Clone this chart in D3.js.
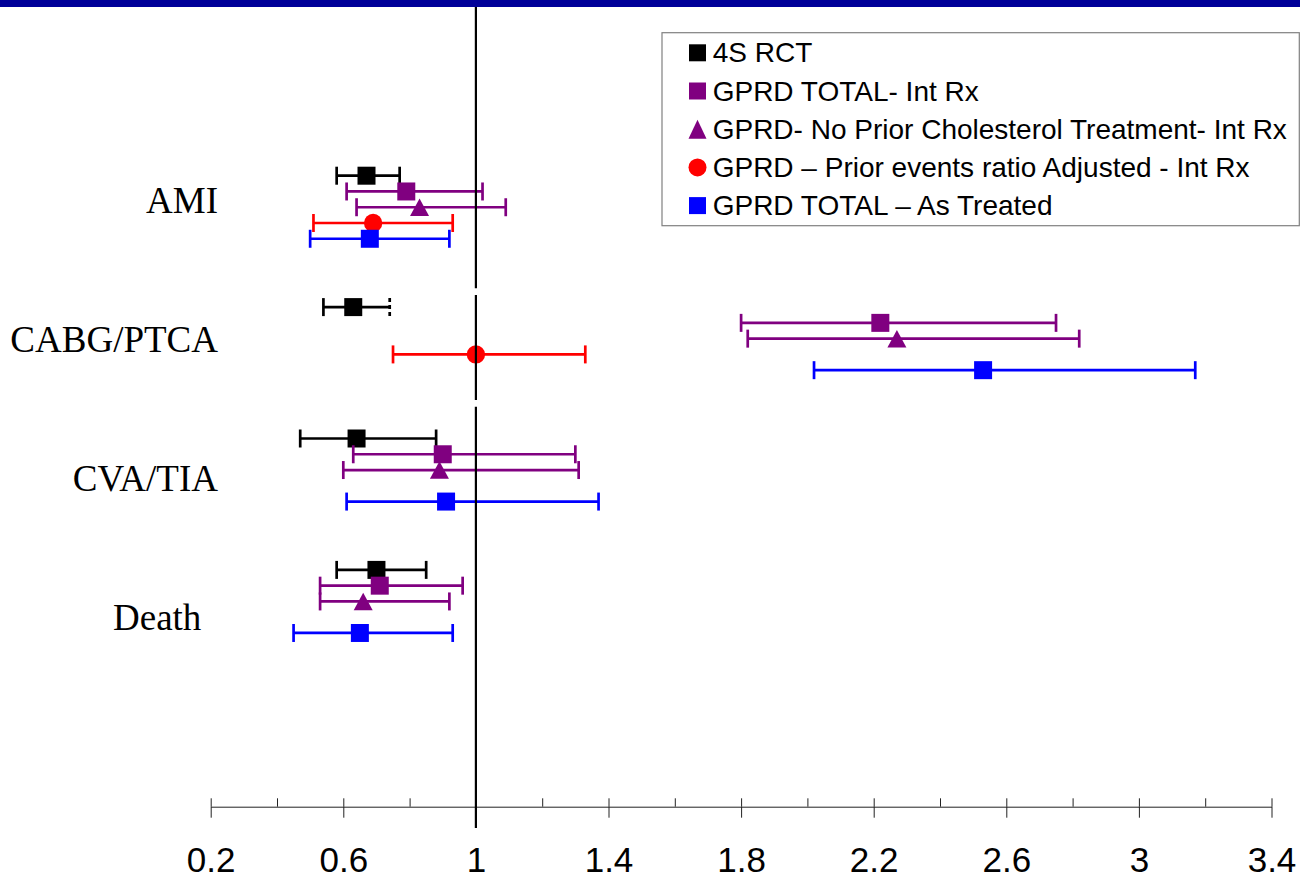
<!DOCTYPE html>
<html>
<head>
<meta charset="utf-8">
<script src="https://cdn.jsdelivr.net/npm/d3@7"></script>
<style>
  body { margin: 0; background: #ffffff; }
</style>
</head>
<body>
<div id="container"></div>
<script>
  // data
  const categories = ['AMI', 'CABG/PTCA', 'CVA/TIA', 'Death']
  const seriesNames = [
    '4S RCT',
    'GPRD TOTAL- Int Rx',
    'GPRD- No Prior Cholesterol Treatment- Int Rx',
    'GPRD \u2013 Prior events ratio Adjusted - Int Rx',
    'GPRD TOTAL \u2013 As Treated'
  ]
  // [estimate, lower, upper] per category, null = not shown
  const rct4s = [[0.67, 0.58, 0.77], [0.63, 0.54, 0.74], [0.64, 0.47, 0.88], [0.70, 0.58, 0.85]]
  const gprdTotalInt = [[0.79, 0.61, 1.02], [2.22, 1.80, 2.75], [0.90, 0.63, 1.30], [0.71, 0.53, 0.96]]
  const gprdNoPriorInt = [[0.83, 0.64, 1.09], [2.27, 1.82, 2.82], [0.89, 0.60, 1.31], [0.66, 0.53, 0.92]]
  const gprdPriorAdjInt = [[0.69, 0.51, 0.93], [1.00, 0.75, 1.33], null, null]
  const gprdTotalAsTreated = [[0.68, 0.50, 0.92], [2.53, 2.02, 3.17], [0.91, 0.61, 1.37], [0.65, 0.45, 0.93]]
  const xTickLabels = [0.2, 0.6, 1, 1.4, 1.8, 2.2, 2.6, 3, 3.4]
  const xMinorTicks = [0.2, 0.4, 0.6, 0.8, 1, 1.2, 1.4, 1.6, 1.8, 2, 2.2, 2.4, 2.6, 2.8, 3, 3.2, 3.4]
  const refValue = 1

  // styles
  const seriesColors = ['#000000', '#800080', '#800080', '#ff0000', '#0000ff']
  const seriesShapes = ['square', 'square', 'triangle', 'circle', 'square']
  const allSeries = [rct4s, gprdTotalInt, gprdNoPriorInt, gprdPriorAdjInt, gprdTotalAsTreated]
  // the 4S CABG/PTCA upper cap is drawn broken in the original
  const brokenCap = { series: 0, category: 1 }

  const width = 1300
  const height = 878
  const axisY = 806.7
  const rowStep = 0.12
  const lineW = 2.7

  const svg = d3.select('#container')
    .append('svg')
    .attr('width', width)
    .attr('height', height)
    .style('display', 'block')

  const xScale = d3.scaleLinear()
    .domain([0.2, 3.4])
    .range([210.7, 1271.5])

  // category index (+ series offset) -> pixel row
  const yScale = d3.scaleLinear()
    .domain([0, 1])
    .range([175.7, 307.1])

  const labelScale = d3.scaleLinear()
    .domain([0, categories.length - 1])
    .range([213.3, 630])

  // top banner
  svg.append('rect')
    .attr('x', 0)
    .attr('y', 0)
    .attr('width', width)
    .attr('height', 7)
    .attr('fill', '#000099')

  // category labels
  svg.append('g')
    .selectAll('text')
    .data(categories)
    .enter()
    .append('text')
    .attr('x', 218)
    .attr('y', (d, i) => labelScale(i))
    .attr('text-anchor', 'end')
    .style('font-family', '"Liberation Serif", "Times New Roman", serif')
    .style('font-size', '37px')
    .style('white-space', 'pre')
    .text((d) => d === 'Death' ? d + '\u00a0\u2009' : d)

  // x axis: minor ticks up, major ticks down with labels
  svg.append('g')
    .attr('transform', `translate(0, ${axisY})`)
    .call(d3.axisBottom(xScale)
      .tickValues(xMinorTicks)
      .tickSizeInner(-8.4)
      .tickSizeOuter(0)
      .tickFormat('')
    )
    .call((g) => g.selectAll('line, path').attr('stroke', '#222').attr('stroke-width', 1))

  svg.append('g')
    .attr('transform', `translate(0, ${axisY})`)
    .call(d3.axisBottom(xScale)
      .tickValues(xTickLabels)
      .tickSizeInner(11)
      .tickSizeOuter(0)
      .tickPadding(29.5)
      .tickFormat(d3.format('~g'))
    )
    .call((g) => g.select('.domain').remove())
    .call((g) => g.selectAll('line').attr('stroke', '#222').attr('stroke-width', 1))
    .call((g) => g.selectAll('text')
      .attr('fill', '#000')
      .style('font-family', '"Liberation Sans", Arial, sans-serif')
      .style('font-size', '35px'))

  const triangle = (w, h) => `M0,${-h / 2}L${w / 2},${h / 2}L${-w / 2},${h / 2}Z`

  const markerPath = (shape) => {
    if (shape === 'square') return d3.symbol(d3.symbolSquare, 18 * 18)()
    if (shape === 'circle') return d3.symbol(d3.symbolCircle, Math.PI * 9.2 * 9.2)()
    return triangle(19, 17.5)
  }

  // error bars and markers
  allSeries.forEach((series, j) => {
    const color = seriesColors[j]
    const pts = series
      .map((v, i) => v ? { est: v[0], lo: v[1], hi: v[2], y: yScale(i + j * rowStep), cat: i } : null)
      .filter((p) => p)

    const g = svg.append('g').attr('class', 'series')

    const bars = g.selectAll('g')
      .data(pts)
      .enter()
      .append('g')

    bars.append('line')
      .attr('x1', (p) => xScale(p.lo))
      .attr('x2', (p) => xScale(p.hi))
      .attr('y1', (p) => p.y)
      .attr('y2', (p) => p.y)
      .attr('stroke', color)
      .attr('stroke-width', lineW)

    bars.selectAll('.cap')
      .data((p) => [
        { x: p.lo, y: p.y, broken: false },
        { x: p.hi, y: p.y, broken: j === brokenCap.series && p.cat === brokenCap.category }
      ])
      .enter()
      .append('line')
      .attr('class', 'cap')
      .attr('x1', (c) => xScale(c.x))
      .attr('x2', (c) => xScale(c.x))
      .attr('y1', (c) => c.y - 9)
      .attr('y2', (c) => c.y + 9)
      .attr('stroke', color)
      .attr('stroke-width', lineW)
      .attr('stroke-dasharray', (c) => c.broken ? '4,3' : null)

    bars.append('path')
      .attr('d', markerPath(seriesShapes[j]))
      .attr('transform', (p) => `translate(${xScale(p.est)}, ${p.y})`)
      .attr('fill', color)
  })

  // reference line at 1, broken between rows
  const refGaps = [[0.857, 0.908], [1.707, 1.758]]
  const refTop = 7
  const refBottom = 828
  const refSegments = []
  let start = refTop
  refGaps.forEach((gp) => {
    refSegments.push([start, yScale(gp[0])])
    start = yScale(gp[1])
  })
  refSegments.push([start, refBottom])

  svg.append('g')
    .selectAll('line')
    .data(refSegments)
    .enter()
    .append('line')
    .attr('x1', xScale(refValue))
    .attr('x2', xScale(refValue))
    .attr('y1', (s) => s[0])
    .attr('y2', (s) => s[1])
    .attr('stroke', '#000')
    .attr('stroke-width', 2.2)

  // legend
  const legend = svg.append('g').attr('class', 'legend')

  legend.append('rect')
    .attr('x', 662)
    .attr('y', 32.7)
    .attr('width', 637.3)
    .attr('height', 193)
    .attr('fill', '#fff')
    .attr('stroke', '#808080')
    .attr('stroke-width', 1.2)

  const legendRows = legend.selectAll('.item')
    .data(seriesNames)
    .enter()
    .append('g')
    .attr('class', 'item')
    .attr('transform', (d, i) => `translate(0, ${62.3 + i * 38.2})`)

  legendRows.append('path')
    .attr('d', (d, i) => {
      const s = seriesShapes[i]
      if (s === 'square') return d3.symbol(d3.symbolSquare, 17 * 17)()
      if (s === 'circle') return d3.symbol(d3.symbolCircle, Math.PI * 9 * 9)()
      return triangle(18, 19)
    })
    .attr('transform', 'translate(697.5, -9.5)')
    .attr('fill', (d, i) => seriesColors[i])

  legendRows.append('text')
    .attr('x', 712.7)
    .attr('y', 0)
    .style('font-family', '"Liberation Sans", Arial, sans-serif')
    .style('font-size', '28px')
    .text((d) => d)
</script>
</body>
</html>
